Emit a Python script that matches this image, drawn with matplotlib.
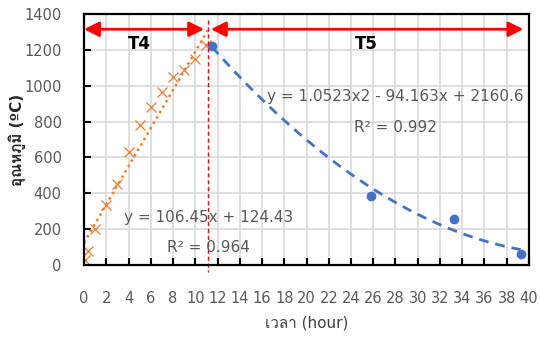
import matplotlib
matplotlib.use("Agg")
import matplotlib.pyplot as plt
import numpy as np
from matplotlib import font_manager
from matplotlib.ft2font import FT2Font

# heating stage (T4) measurements
heat_time = [0.08, 0.33, 1, 2, 3, 4, 5, 6, 7, 8, 9, 10, 11]
heat_temp = [30, 80, 200, 335, 450, 630, 780, 880, 965, 1050, 1085, 1150, 1225]

# cooling stage (T5) measurements
cool_time = [11.5, 25.8, 33.3, 39.25]
cool_temp = [1222, 387, 255, 60]

# trendline coefficients
lin_coef = [106.45, 124.43]
quad_coef = [1.0523, -94.163, 2160.6]

x_ticks = list(range(0, 41, 2))
y_ticks = list(range(0, 1401, 200))


def thai_font():
    for f in font_manager.fontManager.ttflist:
        try:
            if 0x0E27 in FT2Font(f.fname).get_charmap():
                return f.name
        except Exception:
            pass
    return None


fams = ["DejaVu Sans"]
th = thai_font()
if th:
    fams.append(th)
plt.rcParams["font.family"] = fams

fig = plt.figure(figsize=(5.4, 3.38), dpi=100)
ax = fig.add_axes([0.1556, 0.216, 0.824, 0.7426])

ax.set_xlim(0, 40)
ax.set_ylim(0, 1400)
ax.set_xticks(x_ticks)
ax.set_yticks(y_ticks)
ax.grid(True, color="#d9d9d9", lw=1.2)
ax.set_axisbelow(True)
for s in ax.spines.values():
    s.set_linewidth(1.6)
ax.tick_params(direction="in", length=5, width=1.5, labelcolor="#595959",
               labelsize=10.5)
ax.tick_params(axis="x", pad=19)
ax.tick_params(axis="y", pad=16)

# heating data + linear trend
ax.plot(heat_time, heat_temp, ls="none", marker="x", color="#ED7D31", ms=7, mew=0.9)
xl = np.linspace(0, 11.2, 50)
ax.plot(xl, np.polyval(lin_coef, xl), ls=(0, (1, 1.5)), color="#ED7D31", lw=1.8)

# cooling data + quadratic trend
ax.plot(cool_time, cool_temp, ls="none", marker="o", color="#4472C4", ms=6)
xq = np.linspace(cool_time[0], cool_time[-1], 100)
ax.plot(xq, np.polyval(quad_coef, xq), ls=(0, (3.5, 2.5)), color="#4472C4", lw=2)

# stage boundary
ax.plot([11.18, 11.18], [1367, -37], color="red", lw=1, ls=(0, (3, 2)),
        clip_on=False)

arrow = dict(arrowstyle="<|-|>,head_length=0.9,head_width=0.45", color="red",
             lw=2, shrinkA=0, shrinkB=0)
ax.annotate("", xy=(0, 1315), xytext=(10.8, 1315), arrowprops=arrow,
            annotation_clip=False)
ax.annotate("", xy=(11.4, 1315), xytext=(39.5, 1315), arrowprops=arrow,
            annotation_clip=False)
ax.text(5, 1235, "T4", ha="center", va="center", fontsize=12, fontweight="bold")
ax.text(25.4, 1235, "T5", ha="center", va="center", fontsize=12, fontweight="bold")

eq_style = dict(ha="center", va="center", fontsize=11, color="#595959")
ax.text(28, 940, "y = 1.0523x2 - 94.163x + 2160.6", **eq_style)
ax.text(28, 765, "R² = 0.992", **eq_style)
ax.text(11.2, 265, "y = 106.45x + 124.43", **eq_style)
ax.text(11.2, 95, "R² = 0.964", **eq_style)

ax.set_ylabel("อุณหภูมิ (ºC)", fontsize=11, fontweight="bold", color="#262626")
ax.set_xlabel("เวลา (hour)", fontsize=11, color="#404040")
ax.yaxis.set_label_coords(-0.13, 0.5)
ax.xaxis.set_label_coords(0.5, -0.2)

fig.savefig("out.png", dpi=100)
